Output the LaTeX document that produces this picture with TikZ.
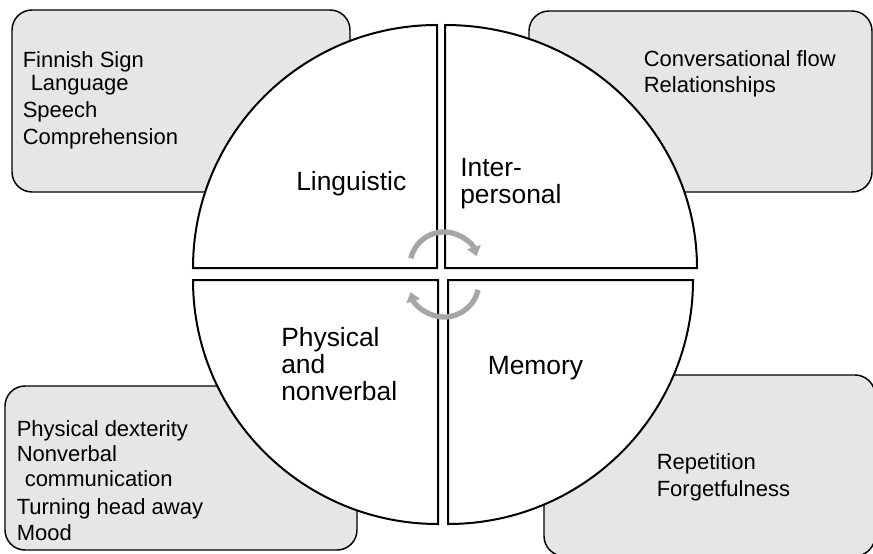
\documentclass[tikz,border=0pt]{standalone}
\usepackage{fontspec}
\setmainfont{Liberation Sans}
\usetikzlibrary{arrows.meta}

\definecolor{boxfill}{RGB}{231,230,230}
\definecolor{cyclegray}{RGB}{166,166,166}

\begin{document}
\begin{tikzpicture}[
  x=0.75pt, y=-0.75pt,
  infobox/.style={draw=black, line width=1.1pt, fill=boxfill, rounded corners=15pt},
  slice/.style={draw=black, line width=1.5pt, fill=white, line join=miter},
  cyclearrow/.style={draw=cyclegray, line width=4pt,
    -{Triangle[width=10.5pt,length=7pt]}},
  % multi-line nodes: the base anchor sits on the last line
  boxtext/.style={anchor=base west, inner sep=0pt, align=left,
    font=\fontsize{16.5}{17.5}\selectfont},
  slicetext/.style={anchor=base west, inner sep=0pt, align=left,
    font=\fontsize{19.8}{20}\selectfont},
]
\useasboundingbox (0,0) rectangle (873,553);
\fill[white] (0,0) rectangle (873,553);

% detail boxes behind the quadrants
\draw[infobox] (12,10) rectangle (350,192);
\draw[infobox] (529,11) rectangle (872,192);
\draw[infobox] (5,386) rectangle (357,550);
\draw[infobox] (544,375) rectangle (875,556);

% the four quadrants
\draw[slice] (437,268) -- (193,268)
  arc[start angle=180, end angle=270, x radius=244, y radius=243] -- cycle;
\draw[slice] (445,268) -- (445,25)
  arc[start angle=270, end angle=360, x radius=252, y radius=243] -- cycle;
\draw[slice] (438,280) -- (438,524)
  arc[start angle=90, end angle=180, x radius=245, y radius=244] -- cycle;
\draw[slice] (448,280) -- (693,280)
  arc[start angle=0, end angle=90, x radius=245, y radius=244] -- cycle;

% cycle arrows in the middle
\draw[cyclearrow] ([shift={(193:34)}]444,266) arc[start angle=193, end angle=343, radius=34];
\draw[cyclearrow] ([shift={(13:35)}]444,282) arc[start angle=13, end angle=163, radius=35];

% quadrant labels
\node[slicetext] (ling) at (296,190.7) {Linguistic};
\node[slicetext] (inter) at (460,203.3) {Inter-\\personal};
\node[slicetext] (phys) at (281,400) {Physical\\and\\nonverbal};
\node[slicetext] (mem) at (487.5,374) {Memory};

% box contents
\node[boxtext] (lingtxt) at (22.5,144) {Finnish Sign\\[-0.25pt]\hspace*{6pt}Language\\[2.75pt]Speech\\[2.75pt]Comprehension};
\node[boxtext] (intertxt) at (643.5,92.7) {Conversational flow\\[2pt]Relationships};
\node[boxtext] (phystxt) at (16.5,540) {Physical dexterity\\[1.25pt]Nonverbal\\[1.25pt]\hspace*{6pt}communication\\[3pt]Turning head away\\[2pt]Mood};
\node[boxtext] (memtxt) at (656.5,496) {Repetition\\[2.5pt]Forgetfulness};
\end{tikzpicture}
\end{document}
